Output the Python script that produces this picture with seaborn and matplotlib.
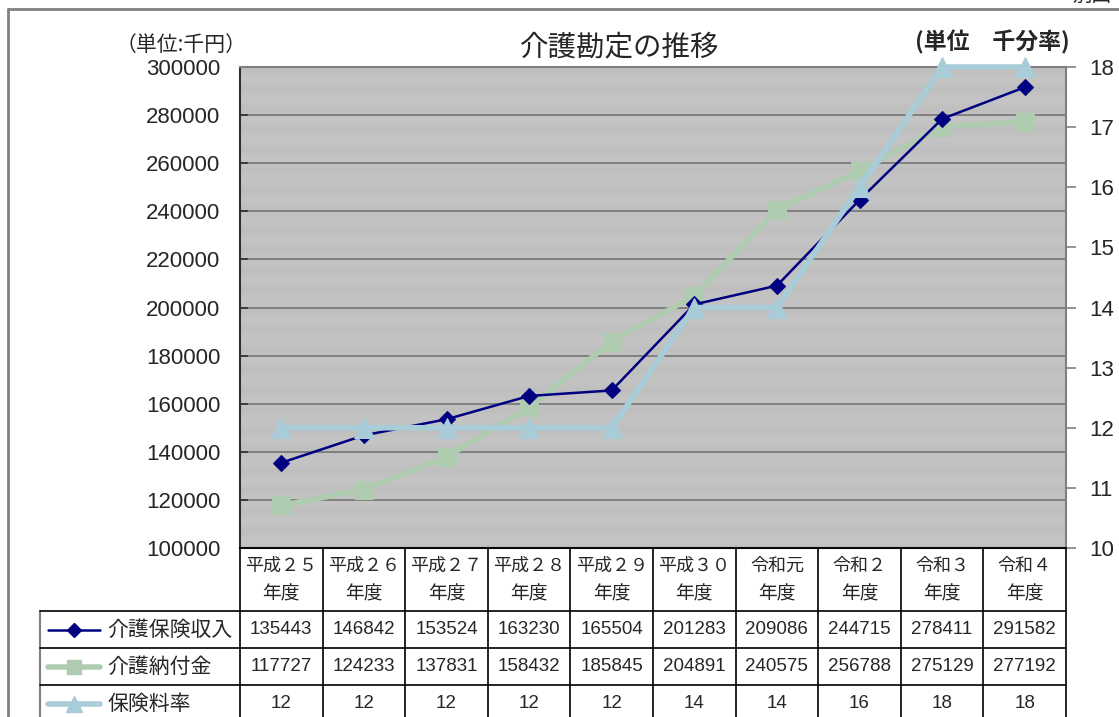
import numpy as np
import pandas as pd
import matplotlib
matplotlib.use("Agg")
import matplotlib.pyplot as plt
import seaborn as sns
from matplotlib.lines import Line2D

# データ
years = ["平成２５\n年度", "平成２６\n年度", "平成２７\n年度", "平成２８\n年度", "平成２９\n年度",
         "平成３０\n年度", "令和元\n年度", "令和２\n年度", "令和３\n年度", "令和４\n年度"]
income = [135443, 146842, 153524, 163230, 165504, 201283, 209086, 244715, 278411, 291582]
payment = [117727, 124233, 137831, 158432, 185845, 204891, 240575, 256788, 275129, 277192]
rate = [12, 12, 12, 12, 12, 14, 14, 16, 18, 18]
series_names = ["介護保険収入", "介護納付金", "保険料率"]

sns.set_style("white")
plt.rcParams["font.family"] = ["Liberation Sans", "Noto Sans CJK JP", "DejaVu Sans"]
jp = ["Noto Sans CJK JP", "DejaVu Sans"]

c_income = "#000080"
c_pay = "#B0CCB0"
c_rate = "#A8CCD8"

W, H = 1119, 717
fig = plt.figure(figsize=(W / 100, H / 100), dpi=100)

# プロット領域 (ピクセル位置)
L, R, T, B = 240, 1066, 67, 548
ax = fig.add_axes([L / W, 1 - B / H, (R - L) / W, (B - T) / H])
ax.set_facecolor("#C0C0C0")
xpos = np.arange(len(years))
df = pd.DataFrame({"x": xpos, "income": income, "payment": payment, "rate": rate})

# 背景の細かい縞
stripes = np.tile([[0.745], [0.757], [0.77], [0.757]], (24, 1))
ax.imshow(stripes, cmap="gray", vmin=0, vmax=1, aspect="auto", zorder=0.1,
          extent=(-0.5, len(years) - 0.5, 100000, 300000), interpolation="bilinear")
for v in range(120000, 300000, 20000):
    ax.axhline(v, color="#808080", lw=1.4, zorder=0.5)

sns.lineplot(data=df, x="x", y="payment", ax=ax, color=c_pay, lw=4, marker="s",
             markersize=13, markeredgecolor=c_pay, clip_on=False, zorder=3)
sns.lineplot(data=df, x="x", y="income", ax=ax, color=c_income, lw=1.8, marker="D",
             markersize=8, markeredgecolor=c_income, clip_on=False, zorder=4)
ax.set_xlim(-0.5, len(years) - 0.5)
ax.set_ylim(100000, 300000)
ax.set_yticks(range(100000, 300001, 20000))
ax.set_xticks([])
ax.set_xlabel("")
ax.set_ylabel("")
ax.tick_params(axis="y", direction="in", length=6, width=1.2, color="#303030",
               labelsize=16, pad=14)
for s in ax.spines.values():
    s.set_color("#808080")
    s.set_linewidth(1.5)
ax.spines["left"].set_color("#303030")
ax.spines["bottom"].set_color("#303030")

ax2 = ax.twinx()
sns.lineplot(data=df, x="x", y="rate", ax=ax2, color=c_rate, lw=4, marker="^",
             markersize=14, markeredgecolor=c_rate, clip_on=False, zorder=5)
ax2.set_ylim(10, 18)
ax2.set_yticks(range(10, 19))
ax2.set_ylabel("")
ax2.tick_params(axis="y", direction="out", length=7, width=1.2, color="#808080",
                labelsize=16, pad=10)
for s in ax2.spines.values():
    s.set_visible(False)

# 重ね描き用の座標 (ピクセル)
ov = fig.add_axes([0, 0, 1, 1], facecolor="none")
ov.set_xlim(0, W)
ov.set_ylim(H, 0)
ov.axis("off")

# 外枠
ov.plot([8, 8], [9, H], color="#808080", lw=2)
ov.plot([8, W], [9, 9], color="#808080", lw=2)
ov.text(1072, 6, "別図", fontsize=14, ha="left", va="bottom", family=jp)

ov.text(620, 47, "介護勘定の推移", fontsize=20.5, ha="center", va="center", family=jp)
ov.text(181, 45, "（単位:千円）", fontsize=15, ha="center", va="center", family=jp)
ov.text(992, 42, "(単位　千分率)", fontsize=16.5, ha="center", va="center",
        fontweight="bold", family=jp)

# データ表
cw = (R - L) / len(years)
rows_y = [548, 611, 648, 685, 722]
for i in range(len(years) + 1):
    ov.plot([L + i * cw] * 2, [548, H], color="black", lw=1.2)
ov.plot([40, 40], [611, H], color="#808080", lw=1.5)
for k, y in enumerate(rows_y[:-1]):
    x0 = L if k == 0 else 40
    ov.plot([x0, R], [y, y], color="black", lw=1.2)

for i, lab in enumerate(years):
    cx = L + (i + 0.5) * cw
    top, bot = lab.split("\n")
    ov.text(cx, 566, top, fontsize=13, ha="center", va="center", family=jp)
    ov.text(cx, 594, bot, fontsize=13.5, ha="center", va="center", family=jp)
    for k, vals in enumerate([income, payment, rate]):
        yc = (rows_y[k + 1] + rows_y[k + 2]) / 2
        ov.text(cx, yc, str(vals[i]), fontsize=13.5, ha="center", va="center")

legend_styles = [(c_income, "D", 1.8, 7), (c_pay, "s", 4, 10), (c_rate, "^", 4, 11)]
for k, (name, (c, m, lw, ms)) in enumerate(zip(series_names, legend_styles)):
    yc = (rows_y[k + 1] + rows_y[k + 2]) / 2
    ov.add_line(Line2D([48, 100], [yc, yc], color=c, lw=lw, solid_capstyle="round"))
    ov.add_line(Line2D([74], [yc], color=c, marker=m, markersize=ms, markeredgecolor=c))
    ov.text(107, yc, name, fontsize=15, ha="left", va="center", family=jp)

fig.savefig("out.png", dpi=100)
